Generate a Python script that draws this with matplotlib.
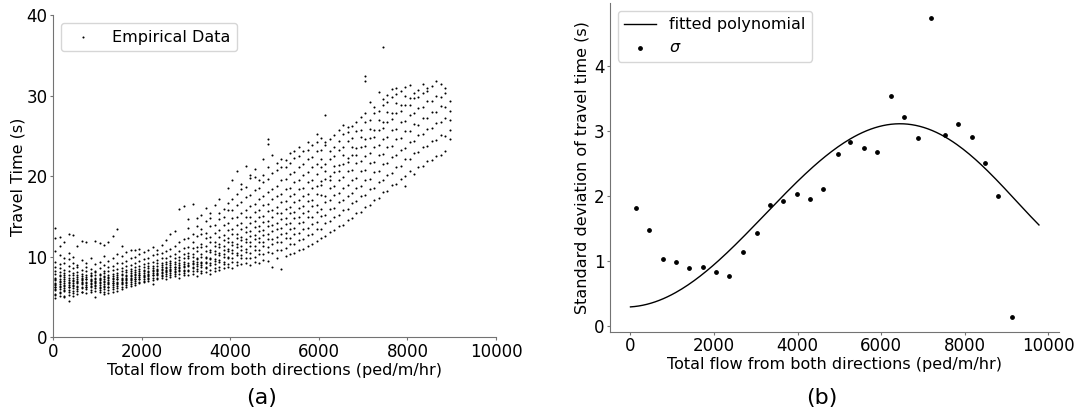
import numpy as np
import matplotlib
matplotlib.use('Agg')
import matplotlib.pyplot as plt

# (a) empirical travel times (s), grouped by flow level (ped/m/hr)
flow_levels = [50, 150, 250, 350, 450, 550, 650, 750, 850, 950,
               1050, 1150, 1250, 1350, 1450, 1550, 1650, 1750, 1850, 1950,
               2050, 2150, 2250, 2350, 2450, 2550, 2650, 2750, 2850, 2950,
               3050, 3150, 3250, 3350, 3450, 3550, 3650, 3750, 3850, 3950,
               4050, 4150, 4250, 4350, 4450, 4550, 4650, 4750, 4850, 4950,
               5050, 5150, 5250, 5350, 5450, 5550, 5650, 5750, 5850, 5950,
               6050, 6150, 6250, 6350, 6450, 6550, 6650, 6750, 6850, 6950,
               7050, 7150, 7250, 7350, 7450, 7550, 7650, 7750, 7850, 7950,
               8050, 8150, 8250, 8350, 8450, 8550, 8650, 8750, 8850, 8950]

travel_times = [
    [4.9, 5.3, 5.4, 5.9, 6.0, 6.2, 6.3, 6.5, 6.6, 6.8, 7.1, 7.2, 7.4, 7.9, 8.2, 8.8, 9.4, 10.7, 12.3, 13.6],
    [5.1, 5.5, 5.7, 6.0, 6.3, 6.4, 6.6, 6.9, 7.0, 7.3, 7.6, 7.7, 8.1, 8.6, 9.1, 10.2, 11.4, 12.5],
    [5.0, 5.2, 5.8, 5.9, 6.1, 6.4, 6.5, 6.8, 7.0, 7.2, 7.5, 7.8, 8.0, 8.4, 9.3, 9.9, 11.9],
    [4.5, 5.3, 5.6, 5.9, 6.2, 6.3, 6.5, 6.7, 6.9, 7.1, 7.4, 7.7, 8.3, 8.9, 9.7, 10.5, 12.8],
    [5.2, 5.5, 5.8, 6.1, 6.4, 6.5, 6.8, 7.0, 7.1, 7.4, 7.7, 8.0, 8.6, 9.2, 10.0, 12.7],
    [5.4, 5.8, 6.0, 6.2, 6.4, 6.7, 6.9, 7.0, 7.3, 7.5, 7.8, 8.1, 8.7, 9.0, 11.4],
    [5.6, 5.7, 6.1, 6.3, 6.6, 6.7, 6.9, 7.1, 7.2, 7.4, 7.6, 7.9, 8.4, 9.6, 12.0],
    [5.5, 6.0, 6.2, 6.3, 6.5, 6.8, 6.9, 7.2, 7.3, 7.5, 7.7, 8.2, 8.8, 9.3, 11.8],
    [5.7, 5.9, 6.2, 6.4, 6.6, 6.8, 7.0, 7.1, 7.3, 7.6, 7.8, 8.0, 8.5, 9.8],
    [5.0, 5.8, 6.1, 6.4, 6.5, 6.7, 6.9, 7.0, 7.2, 7.4, 7.7, 8.1, 8.3, 9.1, 12.0],
    [5.6, 5.9, 6.1, 6.3, 6.5, 6.8, 6.9, 7.1, 7.3, 7.4, 7.7, 7.9, 8.6, 9.4, 11.7],
    [5.4, 5.7, 6.0, 6.3, 6.4, 6.6, 6.9, 7.0, 7.2, 7.5, 7.6, 8.0, 8.3, 9.0, 10.1, 11.5],
    [5.5, 5.9, 6.2, 6.3, 6.6, 6.7, 6.9, 7.1, 7.4, 7.5, 7.8, 8.2, 8.7, 9.5, 11.9],
    [5.7, 6.0, 6.2, 6.5, 6.7, 6.8, 7.0, 7.3, 7.4, 7.6, 7.9, 8.4, 8.9, 9.9, 12.6],
    [5.8, 6.1, 6.4, 6.6, 6.7, 6.9, 7.2, 7.3, 7.5, 7.8, 8.0, 8.5, 9.2, 10.4, 13.4],
    [6.0, 6.3, 6.6, 6.7, 6.9, 7.1, 7.2, 7.4, 7.7, 7.9, 8.2, 8.6, 9.3, 10.1, 11.3],
    [6.2, 6.5, 6.7, 6.9, 7.1, 7.3, 7.4, 7.6, 7.8, 8.1, 8.4, 8.9, 9.5, 10.6],
    [6.4, 6.6, 6.9, 7.1, 7.2, 7.4, 7.6, 7.7, 8.0, 8.3, 8.5, 9.0, 9.8, 10.9],
    [6.5, 6.8, 7.0, 7.2, 7.3, 7.5, 7.7, 7.9, 8.1, 8.4, 8.7, 9.2, 10.0, 10.8],
    [6.7, 6.9, 7.2, 7.3, 7.5, 7.7, 7.8, 8.0, 8.3, 8.5, 8.9, 9.5, 10.3, 11.0],
    [6.9, 7.0, 7.3, 7.5, 7.6, 7.8, 8.0, 8.2, 8.4, 8.7, 9.1, 9.7, 10.6],
    [7.0, 7.2, 7.4, 7.6, 7.8, 7.9, 8.1, 8.3, 8.6, 8.9, 9.3, 9.9, 10.9],
    [6.6, 7.1, 7.4, 7.7, 7.8, 8.0, 8.2, 8.4, 8.6, 8.9, 9.4, 10.2, 11.2],
    [7.3, 7.4, 7.7, 7.9, 8.0, 8.2, 8.4, 8.5, 8.9, 9.2, 9.6, 10.4, 10.8],
    [7.4, 7.6, 7.8, 8.0, 8.1, 8.4, 8.5, 8.7, 9.0, 9.3, 9.8, 10.5, 11.5],
    [7.2, 7.6, 7.9, 8.1, 8.3, 8.4, 8.6, 8.8, 9.1, 9.4, 9.9, 10.7, 12.1],
    [7.5, 7.8, 8.0, 8.2, 8.4, 8.5, 8.7, 9.0, 9.2, 9.5, 10.1, 11.0, 12.9],
    [7.6, 7.9, 8.1, 8.3, 8.5, 8.7, 8.8, 9.1, 9.4, 9.8, 10.4, 11.4, 13.2],
    [7.4, 7.9, 8.2, 8.4, 8.6, 8.7, 9.0, 9.3, 9.6, 10.0, 10.7, 11.8, 15.9],
    [7.7, 8.0, 8.3, 8.4, 8.7, 8.9, 9.1, 9.4, 9.8, 10.3, 11.1, 12.2, 16.3],
    [7.7, 8.3, 8.4, 8.9, 9.0, 9.2, 9.8, 10.1, 10.5, 11.2, 12.4, 13.6, 14.7],
    [7.9, 8.2, 8.6, 8.7, 9.1, 9.3, 9.5, 10.0, 10.3, 11.1, 11.8, 12.8, 16.6],
    [7.6, 8.3, 8.5, 8.9, 9.1, 9.4, 9.7, 9.9, 10.7, 11.2, 12.6, 13.8, 14.8],
    [8.0, 8.3, 8.8, 9.0, 9.3, 9.4, 10.0, 10.3, 11.2, 11.6, 12.9, 13.5, 15.2],
    [8.1, 8.6, 8.7, 9.2, 9.4, 9.8, 10.0, 10.7, 11.3, 12.3, 13.0, 14.4, 16.1],
    [7.9, 8.4, 9.0, 9.2, 9.7, 9.9, 10.6, 10.9, 11.9, 12.5, 13.8, 14.8, 15.4],
    [8.3, 8.6, 9.1, 9.5, 9.7, 10.4, 10.7, 11.4, 11.9, 13.0, 14.0, 16.5],
    [8.4, 8.8, 9.4, 9.6, 10.2, 10.5, 11.2, 11.6, 12.5, 13.3, 14.7, 15.5, 17.2],
    [8.6, 9.1, 9.4, 10.0, 10.3, 10.9, 11.3, 12.1, 12.7, 14.0, 15.0, 16.0],
    [8.7, 9.1, 9.8, 10.0, 10.7, 11.0, 11.8, 12.3, 13.3, 14.2, 15.8, 16.7, 18.5],
    [8.6, 9.4, 9.8, 10.5, 10.8, 11.5, 11.9, 12.8, 13.5, 14.8, 15.8, 17.2, 19.6],
    [9.0, 9.4, 10.2, 10.5, 11.2, 11.6, 12.4, 12.9, 14.0, 14.9, 16.5, 17.8, 20.7],
    [9.1, 9.8, 10.2, 10.9, 11.3, 12.1, 12.5, 13.5, 14.2, 15.5, 16.8, 18.4, 19.1],
    [9.2, 9.8, 10.6, 11.0, 11.8, 12.2, 13.1, 13.7, 14.9, 15.8, 17.4, 18.7, 21.3],
    [9.0, 9.9, 10.5, 11.3, 11.8, 12.6, 13.2, 14.2, 15.0, 16.3, 17.7, 19.8, 20.2],
    [9.4, 10.0, 10.9, 11.4, 12.2, 12.7, 13.7, 14.4, 15.6, 16.6, 18.3, 19.9, 20.9],
    [9.3, 10.3, 10.9, 11.8, 12.3, 13.2, 13.8, 14.9, 15.8, 17.2, 18.6, 19.6],
    [9.6, 10.3, 11.3, 11.8, 12.7, 13.3, 14.3, 15.1, 16.4, 17.5, 19.3, 20.2, 22.1],
    [9.5, 10.6, 11.2, 12.2, 12.8, 13.8, 14.5, 15.7, 16.6, 18.1, 19.7, 21.2, 24.0, 24.6],
    [8.8, 10.5, 11.6, 12.2, 13.2, 13.9, 15.0, 15.8, 17.2, 18.4, 20.4, 22.7],
    [9.9, 10.8, 11.9, 12.5, 13.5, 14.2, 15.4, 16.2, 17.6, 18.8, 20.8, 21.6],
    [8.5, 10.9, 11.9, 12.9, 13.6, 14.7, 15.5, 16.8, 17.8, 19.5, 21.1, 22.2],
    [10.1, 11.1, 12.3, 13.0, 14.1, 14.8, 16.0, 16.9, 18.4, 19.7, 21.1, 22.0],
    [10.4, 11.6, 12.4, 13.5, 14.2, 15.4, 16.2, 17.5, 18.6, 20.3, 21.7, 22.9],
    [10.5, 11.6, 12.9, 13.6, 14.8, 15.6, 16.8, 17.8, 19.3, 20.5, 22.3, 23.2],
    [10.9, 12.1, 13.0, 14.2, 14.9, 16.1, 17.0, 18.4, 19.5, 21.2, 22.5, 23.6],
    [11.0, 12.2, 13.5, 14.3, 15.5, 16.3, 17.6, 18.6, 20.2, 21.5, 23.1],
    [11.4, 12.7, 13.6, 14.9, 15.7, 16.9, 17.8, 19.3, 20.5, 22.1, 23.3, 24.2],
    [11.6, 12.8, 14.1, 15.0, 16.3, 17.1, 18.5, 19.6, 21.2, 22.4, 23.9],
    [12.0, 13.4, 14.3, 15.6, 16.5, 17.8, 18.8, 20.3, 21.5, 23.1, 24.2, 25.3],
    [12.3, 13.5, 15.1, 16.0, 17.7, 18.9, 19.4, 21.1, 22.2, 23.3, 24.8],
    [12.6, 14.2, 15.2, 16.8, 17.6, 19.7, 20.6, 21.5, 23.9, 24.3, 27.6],
    [13.1, 14.4, 15.9, 17.0, 18.6, 19.5, 20.1, 22.2, 23.2, 24.6],
    [13.3, 15.0, 16.1, 17.7, 18.8, 20.5, 21.3, 22.5, 23.7, 25.1],
    [13.8, 15.2, 16.8, 17.9, 19.6, 20.6, 21.4, 23.3, 24.4, 25.7],
    [14.0, 15.8, 17.0, 18.6, 19.9, 21.5, 22.7, 23.6, 25.2, 26.4],
    [14.6, 16.0, 17.6, 18.9, 20.7, 21.8, 22.3, 24.4, 25.5, 26.1],
    [14.8, 16.7, 17.9, 19.5, 20.8, 22.6, 23.7, 24.8, 26.3],
    [15.4, 16.9, 18.6, 19.8, 21.6, 22.7, 23.5, 25.6, 26.8],
    [15.6, 17.5, 18.8, 20.6, 21.9, 23.6, 24.9, 25.8, 27.4],
    [16.2, 17.7, 19.5, 20.8, 22.5, 23.8, 24.6, 26.7, 27.9, 31.8, 32.5],
    [16.5, 18.4, 19.7, 21.6, 22.9, 24.7, 25.9, 27.0, 29.2],
    [17.1, 18.6, 20.5, 21.8, 23.6, 24.9, 25.7, 27.8, 28.6],
    [17.3, 19.3, 20.7, 22.6, 23.9, 25.7, 27.0, 28.1, 30.5],
    [18.0, 19.5, 21.5, 22.8, 24.6, 26.0, 26.8, 28.9, 29.6, 36.1],
    [18.2, 20.2, 21.6, 23.6, 24.9, 26.8, 28.0, 29.2, 30.1],
    [18.9, 20.4, 22.4, 23.8, 25.7, 27.1, 27.9, 29.9, 30.8],
    [19.1, 21.1, 22.6, 24.6, 25.9, 27.8, 29.1, 30.2, 31.0],
    [19.7, 21.3, 23.3, 24.7, 26.7, 28.1, 28.8, 30.6],
    [18.8, 20.0, 22.1, 23.5, 25.6, 26.9, 28.8, 30.0, 31.1],
    [20.6, 22.2, 24.2, 25.6, 27.6, 28.9, 29.7, 31.3],
    [20.3, 22.9, 24.4, 26.5, 27.8, 29.7, 30.4],
    [21.1, 23.0, 25.1, 26.4, 28.5, 29.8, 30.7],
    [21.3, 23.7, 25.2, 27.3, 28.6, 30.4, 31.4],
    [21.9, 23.8, 25.9, 27.2, 29.3, 30.6, 31.0],
    [22.0, 24.4, 26.0, 28.0, 29.4, 31.2],
    [22.5, 24.5, 26.6, 28.0, 30.0, 31.8],
    [22.6, 25.1, 26.7, 28.7, 29.9, 31.5],
    [23.1, 25.0, 27.2, 28.6, 30.4, 31.0],
    [24.6, 25.8, 27.0, 28.1, 29.3],
]

# (b) standard deviation of travel time per flow bin
sigma_flow = [127, 450, 770, 1090, 1410, 1730, 2050, 2370, 2700, 3020,
              3340, 3660, 3980, 4300, 4620, 4960, 5260, 5590, 5910, 6230,
              6550, 6880, 7200, 7520, 7850, 8170, 8490, 8810, 9130]
sigma_vals = [1.82, 1.48, 1.03, 0.98, 0.89, 0.90, 0.83, 0.77, 1.13, 1.43,
              1.86, 1.92, 2.03, 1.95, 2.11, 2.64, 2.83, 2.74, 2.67, 3.54,
              3.22, 2.89, 4.74, 2.94, 3.11, 2.90, 2.50, 2.00, 0.14]

# points (flow in thousands, sigma)
curve_flow_k = [0, 0.8, 1.73, 2.5, 3.34, 4.04, 4.52, 5.26, 5.8, 6.36, 7.0, 7.52, 8.49, 9.17, 9.78]
curve_sigma = [0.28, 0.46, 0.76, 1.22, 1.84, 2.245, 2.52, 2.87, 3.05, 3.11, 3.02, 2.93, 2.45, 1.94, 1.56]

x_emp = []
y_emp = []
for f, ys in zip(flow_levels, travel_times):
    x_emp += [f] * len(ys)
    y_emp += ys

coefs = np.polyfit(curve_flow_k, curve_sigma, 5)
x_fit = np.linspace(curve_flow_k[0], curve_flow_k[-1], 200)
y_fit = np.polyval(coefs, x_fit)

fig = plt.figure(figsize=(10.83, 4.11), dpi=100)
ax1 = fig.add_axes([0.049, 0.179, 0.409, 0.784])
ax2 = fig.add_axes([0.5633, 0.193, 0.4149, 0.80])

ax1.scatter(x_emp, y_emp, s=2.2, c='black', marker='o', linewidths=0, label='Empirical Data')
ax1.set_xlim(0, 10000)
ax1.set_ylim(0, 40)
ax1.set_xticks([0, 2000, 4000, 6000, 8000, 10000])
ax1.set_yticks([0, 10, 20, 30, 40])
ax1.set_xlabel('Total flow from both directions (ped/m/hr)', fontsize=11.5, labelpad=1.5)
ax1.set_ylabel('Travel Time (s)', fontsize=11.5)
ax1.yaxis.set_label_coords(-0.063, 0.5)
ax1.legend(loc='upper left', fontsize=11.5, markerscale=1)

ax2.plot(x_fit * 1000, y_fit, color='black', linewidth=1, label='fitted polynomial')
ax2.scatter(sigma_flow, sigma_vals, s=6, c='black', label=r'$\sigma$')
ax2.set_xticks([0, 2000, 4000, 6000, 8000, 10000])
ax2.set_yticks([0, 1, 2, 3, 4])
ax2.set_xlabel('Total flow from both directions (ped/m/hr)', fontsize=11.5, labelpad=1.5)
ax2.set_ylabel('Standard deviation of travel time (s)', fontsize=11.5)
ax2.yaxis.set_label_coords(-0.045, 0.5)
ax2.legend(loc='upper left', fontsize=11.5)

for ax in (ax1, ax2):
    ax.spines['top'].set_visible(False)
    ax.spines['right'].set_visible(False)
    for s in ('left', 'bottom'):
        ax.spines[s].set_color('0.45')
    ax.tick_params(labelsize=12, colors='0.45', labelcolor='black', length=2, pad=2)

fig.text(262 / 1083, 1 - 398 / 411, '(a)', fontsize=16, ha='center', va='center')
fig.text(822 / 1083, 1 - 398 / 411, '(b)', fontsize=16, ha='center', va='center')

fig.savefig('out.png', dpi=100)
